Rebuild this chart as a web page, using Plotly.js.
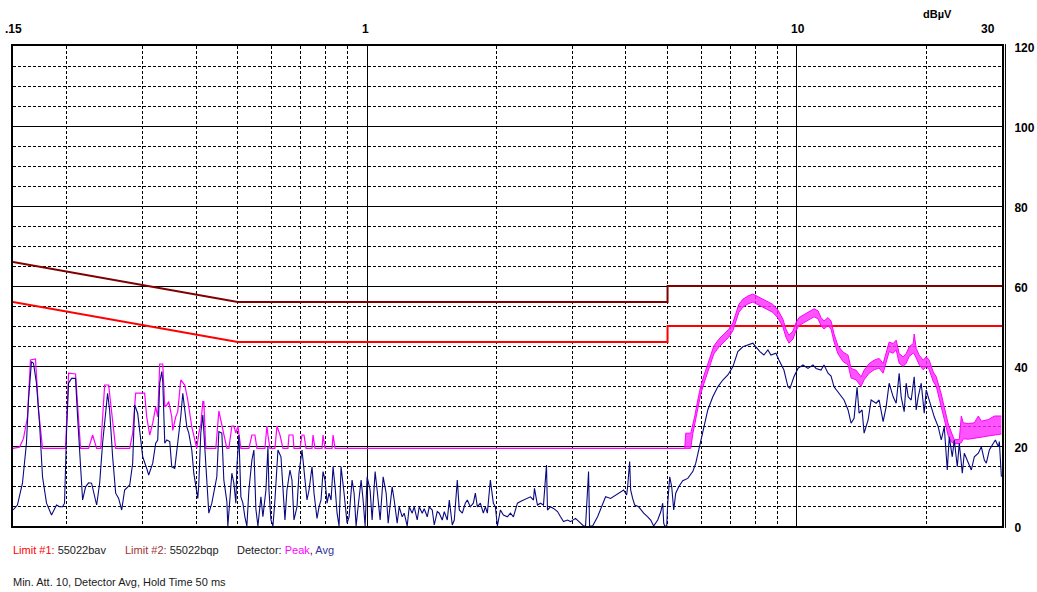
<!DOCTYPE html>
<html>
<head>
<meta charset="utf-8">
<script src="https://cdn.plot.ly/plotly-3.0.1.min.js"></script>
<style>
html,body{margin:0;padding:0;background:#ffffff;}
#chart{width:1037px;height:592px;}
</style>
</head>
<body>
<div id="chart"></div>
<script>
// ---------------- data (frequency in MHz, level in dBµV) ----------------
const limitQpFreq = [0.15, 0.5, 5, 5, 30];
const limitQpDb   = [66, 56, 56, 60, 60];
const limitAvFreq = [0.15, 0.5, 5, 5, 30];
const limitAvDb   = [56, 46, 46, 50, 50];

// Peak detector, low band (thin trace)
const peakLowFreq = [0.15,0.1553,0.1587,0.1621,0.1647,0.1692,0.1720,0.1757,0.1988,0.2020,0.2097,0.2154,0.2249,0.2298,0.2348,0.2399,0.2451,0.2504,0.2600,0.2803,0.2848,0.2894,0.3037,0.3070,0.3120,0.3171,0.3222,0.3257,0.3292,0.3346,0.3382,0.3418,0.3455,0.3511,0.3530,0.3587,0.3626,0.3685,0.3765,0.3826,0.3909,0.3973,0.4015,0.4059,0.4102,0.4147,0.4169,0.4214,0.4446,0.4519,0.4617,0.4717,0.4768,0.4845,0.4897,0.4950,0.5004,0.5085,0.5308,0.5394,0.5482,0.5541,0.5784,0.5846,0.5878,0.5941,0.6103,0.6169,0.6269,0.6371,0.6544,0.6579,0.6722,0.6758,0.6979,0.7055,0.7131,0.7208,0.7444,0.7484,0.7564,0.7854,0.7896,0.7982,0.8287,0.8332,0.8422,5.483];
const peakLowDb = [19.4,19.7,21.9,27.3,41.5,41.75,29,19.4,19.4,38.2,38,19.4,19.4,22.75,19.4,19.4,35.25,35.25,19.4,19.4,23.2,33.2,33.2,27.3,22.75,25.7,29.8,27.3,40.5,40.5,29.8,30.25,31.1,27.3,23.9,27.3,28.6,36.5,35.25,31.5,24.8,21.5,19.4,23.2,25.25,31.1,31.1,19.4,19.4,28.75,23.9,19.4,19.4,25,25,23.2,25,19.4,19.4,22.75,22.75,19.4,19.4,25,22.75,19.4,19.4,25,22.75,19.4,19.4,22.75,22.75,19.4,19.4,22.75,22.75,19.4,19.4,22.75,19.4,19.4,22.75,19.4,19.4,22.75,19.4,19.4];

// Peak detector, high band (noisy band: upper and lower envelope)
const peakHighFreq = [5.483,5.512,5.662,5.723,5.785,5.879,5.974,6.071,6.203,6.304,6.406,6.581,6.759,6.943,7.094,7.209,7.326,7.485,7.689,7.898,8.113,8.334,8.560,8.793,9.032,9.278,9.429,9.582,9.790,9.949,10.11,10.385,10.668,10.958,11.196,11.377,11.562,11.813,12.005,12.200,12.465,12.804,13.152,13.365,13.729,14.102,14.331,14.721,15.122,15.533,15.869,16.127,16.389,16.745,17.017,17.293,17.669,17.955,18.247,18.643,18.744,18.946,19.253,19.671,19.990,20.315,20.756,21.093,21.320,21.666,22.018,22.496,22.861,23.232,23.864,24.122,24.382,25.046,25.865,26.43,26.855,27.883,28.796,29.9];
const peakHighMax = [19.4,23.2,23.2,25,27.5,31.5,35,37.5,40.4,42.9,45,46.7,47.9,49.2,50.8,53.3,55.4,56.7,57.5,58,57.3,56.8,56,55.4,54,51.7,49.2,47.7,48.75,50.8,52.1,52.9,53.5,54.3,53.8,52.1,51.25,52.1,51.25,48,45,43.5,42.7,39.4,38.95,37.3,38.95,40.6,41.45,41.9,40.6,43.1,46,45.6,46.45,43.1,42.3,43.1,44.8,45.6,48,44.4,42.7,41.45,42.3,41.45,38.5,37.3,35.8,33,29.7,25.5,23.5,21.6,21.6,27.5,25.8,25.6,25.8,27.5,26.2,26.6,27.5,27.5];
const peakHighMin = [19.4,19.4,19.4,23,25.5,29.5,33,35.5,38.4,40.9,43,44.7,45.9,47.2,48.8,51.3,53.4,54.7,55.5,56,55.3,54.8,54,53.4,52,49.7,47.2,45.7,46.75,48.8,50.1,50.9,51.5,52.3,51.8,50.1,49.25,50.1,49.25,46,43,41.1,40.3,37,36.55,34.9,36.55,38.2,39.05,39.5,38.2,40.7,43.6,43.2,44.05,40.7,39.9,40.7,42.4,43.2,43,42,40.3,39.05,39.9,39.05,36.1,34.9,33,30,26.7,22.5,21,20.6,20.6,20.8,21.8,21.7,22,22.2,22.2,22.5,22.8,23];

// Average detector
const avgFreq = [0.15,0.1536,0.1578,0.1612,0.1630,0.1656,0.1674,0.1701,0.1729,0.1757,0.1795,0.1844,0.1894,0.1925,0.1956,0.1977,0.1999,0.2020,0.2053,0.2097,0.2120,0.2154,0.2178,0.2213,0.2249,0.2285,0.2322,0.2348,0.2386,0.2424,0.2490,0.2517,0.2558,0.2600,0.2642,0.2685,0.2728,0.2803,0.2848,0.2879,0.2925,0.2973,0.3005,0.3070,0.3103,0.3171,0.3222,0.3257,0.3292,0.3328,0.3346,0.3382,0.3418,0.3474,0.3511,0.3568,0.3626,0.3685,0.3725,0.3765,0.3806,0.3847,0.3909,0.3951,0.3994,0.4037,0.4059,0.4102,0.4147,0.4191,0.4237,0.4282,0.4352,0.4423,0.4470,0.4519,0.4592,0.4641,0.4717,0.4742,0.4793,0.4845,0.4897,0.4950,0.4977,0.5031,0.5085,0.5140,0.5195,0.5251,0.5308,0.5394,0.5452,0.5511,0.5571,0.5661,0.5722,0.5815,0.5878,0.5910,0.5973,0.6038,0.6103,0.6202,0.6303,0.6371,0.6439,0.6509,0.6615,0.6686,0.6758,0.6868,0.6942,0.7055,0.7131,0.7247,0.7325,0.7444,0.7524,0.7646,0.7729,0.7812,0.7896,0.7982,0.8068,0.8155,0.8243,0.8332,0.8422,0.8513,0.8604,0.8697,0.8838,0.8982,0.9079,0.9226,0.9326,0.9427,0.9528,0.9683,0.9787,0.9893,1.0,1.0162,1.0272,1.0438,1.0551,1.0723,1.0897,1.1074,1.1194,1.1436,1.1560,1.1747,1.1874,1.2067,1.2197,1.2395,1.2529,1.2732,1.2869,1.3078,1.3220,1.3434,1.3579,1.3800,1.3949,1.4175,1.4328,1.4561,1.4718,1.4957,1.5118,1.5364,1.5529,1.5781,1.5952,1.6211,1.6386,1.6652,1.6922,1.7105,1.7383,1.7665,1.7856,1.8049,1.8341,1.8639,1.8840,1.9043,1.9353,1.9667,1.9879,2.0094,2.0420,2.0751,2.1202,2.1546,2.1896,2.2371,2.2734,2.3103,2.3604,2.3988,2.4377,2.4508,2.4907,2.5311,2.5722,2.6139,2.6280,2.6707,2.7140,2.7730,2.8179,2.8636,2.9258,2.9733,3.0542,3.1373,3.1882,3.2226,3.2750,3.2926,3.3460,3.4371,3.5305,3.5878,3.6854,3.7856,3.8887,3.9518,4.0160,4.0376,4.0812,4.1031,4.1474,4.1921,4.2831,4.3997,4.4952,4.5681,4.6422,4.7430,4.8200,4.8720,4.8982,4.9246,4.9778,5.0046,5.0586,5.1132,5.1683,5.2241,5.3090,5.4242,5.5718,5.7233,5.8162,5.9107,6.0389,6.2032,6.3719,6.5453,6.7233,6.9062,7.0940,7.2870,7.4852,7.6888,7.8980,8.0262,8.2005,8.3784,8.5603,8.6992,8.9358,9.0809,9.3279,9.5304,9.6333,9.8423,10.056,10.329,10.610,10.899,11.076,11.377,11.562,11.813,12.005,12.200,12.532,12.873,13.152,13.365,13.582,13.802,13.951,14.178,14.331,14.642,14.880,15.285,15.533,15.869,16.127,16.389,16.745,17.017,17.293,17.480,17.764,17.955,18.149,18.444,18.743,18.946,19.150,19.461,19.777,19.990,20.206,20.534,20.867,21.320,21.666,22.018,22.375,22.616,22.984,23.232,23.609,23.864,24.252,24.514,25.046,25.452,25.865,26.427,26.855,27.291,27.586,28.033,28.642,28.951,29.421,29.579,29.9];
const avgDb = [4,5.25,10.7,20.7,31.5,41.1,40.7,35.7,25.7,12.3,5.7,2.75,5.25,4.8,4.8,5.7,24,35.7,36.9,36.9,27.3,16.5,6.5,9.8,10.8,10.7,7.3,5.25,10.7,20.7,33.2,29,17.3,8.2,6.9,4,9,10.25,15.7,30.25,28.2,21.5,17.3,14.4,12.75,15.7,20.7,21.5,35.7,38.6,36.1,20.7,21.5,21.1,14.8,14.4,20.7,27.3,33.2,29.4,24.8,23.2,19,13.2,10.25,6.9,10.7,23.2,27.75,19.8,9,3.2,5.7,9.8,12.3,23.6,23.2,11.5,6.1,0,5.7,13.2,10.7,5.7,14.8,22.75,7.3,5.7,2.3,0,9,16.5,19,4.2,0,7.3,2.3,9,19.8,9,1.5,0,6.5,19,17.3,9,1.5,9,14,11.5,1.5,4.8,13.2,19,13.2,6.5,9,14.8,8.2,1.9,4.8,6.5,13.6,11.5,5.7,8.2,6.5,14.8,9.8,3.2,0,14.8,8.2,0.7,2.3,11.5,8.2,0,4.8,11.5,6.5,0,12.3,9,1.5,13.6,9,1.5,12.3,8.2,0.7,9.8,6.5,0.7,4.8,2.3,3.2,0,4.8,3.2,4.8,1.5,4.8,3.2,4.3,2.3,4.8,4,0.25,3.6,3.2,1.5,3.6,1.5,6.5,0.25,1.5,11.5,4,3.2,5.7,6.5,4.8,5.7,8.2,4.8,5.7,3.2,4.8,3.2,11.5,5.7,4.8,0,4,2.75,2.3,3.2,2.3,5.7,6.1,6.5,6.9,7.3,6.5,9.4,5.25,5.7,5.25,15.25,4,4.8,4.4,3.6,2.3,1.1,1.5,1.1,1.9,0.7,0,0,13.6,0,0,2.3,5.7,7.3,6.9,7.75,8.6,9,7.75,9.8,16.1,9,6.9,5.25,4.8,3.2,2.3,1.5,0,1.5,3.5,5.7,0.7,0,0,5.7,12.3,9.8,4,8.2,9.8,11.3,11.9,13.6,15.7,19,23,29,32.3,34.8,36.5,37.75,39.8,43.6,44.8,45.25,45.7,44.8,43.6,42.75,44,42.75,43.2,41.5,39,34.8,34.4,37.3,39.4,40.25,39.4,40.25,39.4,39,40.25,38.2,37.5,34.8,33.2,31.5,29,25.7,26.9,34.7,28.2,29,23.2,26.5,31.5,30.7,31.5,26.1,29.8,35.7,32.3,30.7,38.2,32.3,28.6,35.7,32.3,31.5,37.3,29,32.3,35.7,28.2,34,32.3,29.8,27.3,24.8,21.5,24.8,14,22.3,17.3,21.5,14.8,20.7,13.2,18.2,15.7,14,17.3,18.2,19.8,16.5,15.7,19,20.7,21.5,19.8,21.1,12.3];

// axis ticks / grid positions and labels
const xTickVals = [0.15, 1, 10, 30];
const xTickText = ['.15', '1', '10', '30'];
const xMajorGrid = [1, 10];
const xMinorGrid = [0.2,0.3,0.4,0.5,0.6,0.7,0.8,0.9,2,3,4,5,6,7,8,9,20];
const yTickVals = [0, 20, 40, 60, 80, 100, 120];
const yTickText = ['0', '20', '40', '60', '80', '100', '120'];
const unitLabel = 'dBµV';
const noteLine2 = 'Min. Att. 10, Detector Avg, Hold Time 50 ms';

// ---------------- styling ----------------
const FONT = 'Liberation Sans, Arial, Helvetica, sans-serif';
const C_PEAK = '#ff00ff';
const C_AVG = '#0a0a80';
const C_LIM1 = '#ff0000';
const C_LIM2 = '#800000';

const traces = [
  {x: limitQpFreq, y: limitQpDb, type: 'scatter', mode: 'lines', line: {color: C_LIM2, width: 2}, hoverinfo: 'skip'},
  {x: limitAvFreq, y: limitAvDb, type: 'scatter', mode: 'lines', line: {color: C_LIM1, width: 2}, hoverinfo: 'skip'},
  {x: peakLowFreq, y: peakLowDb, type: 'scatter', mode: 'lines', line: {color: C_PEAK, width: 1.2}, hoverinfo: 'skip'},
  {x: peakHighFreq, y: peakHighMin, type: 'scatter', mode: 'lines', line: {color: C_PEAK, width: 1}, hoverinfo: 'skip'},
  {x: peakHighFreq, y: peakHighMax, type: 'scatter', mode: 'lines', fill: 'tonexty', fillcolor: 'rgba(255,40,255,0.8)', line: {color: C_PEAK, width: 1}, hoverinfo: 'skip'},
  {x: avgFreq, y: avgDb, type: 'scatter', mode: 'lines', line: {color: C_AVG, width: 1.1}, hoverinfo: 'skip'}
];

const xLabelShift = [0, -2, 1, -14];
const annotations = xTickVals.map((v, i) => ({
  xref: 'x', x: Math.log10(v), yref: 'paper', y: 1, yanchor: 'middle', xanchor: 'center',
  yshift: 17, xshift: xLabelShift[i], text: xTickText[i], showarrow: false,
  font: {family: FONT, size: 12, weight: 'bold', color: '#000'}
}));
annotations.push({
  xref: 'paper', x: 0.9345, yref: 'paper', y: 1, yanchor: 'middle', xanchor: 'center', yshift: 32,
  text: unitLabel, showarrow: false, font: {family: FONT, size: 11, weight: 'bold', color: '#000'}
});
const noteFont = {family: FONT, size: 11, color: '#1a1a1a'};
annotations.push({
  xref: 'paper', x: 0, yref: 'paper', y: 0, xanchor: 'left', yanchor: 'middle', yshift: -24, xshift: -2,
  text: '<span style="color:#ff0000">Limit #1:</span> 55022bav', showarrow: false, font: noteFont
});
annotations.push({
  xref: 'paper', x: 0.1132, yref: 'paper', y: 0, xanchor: 'left', yanchor: 'middle', yshift: -24, xshift: -2,
  text: '<span style="color:#a03434">Limit #2:</span> 55022bqp', showarrow: false, font: noteFont
});
annotations.push({
  xref: 'paper', x: 0.2265, yref: 'paper', y: 0, xanchor: 'left', yanchor: 'middle', yshift: -24, xshift: -2,
  text: 'Detector: <span style="color:#ff00ff">Peak</span>, <span style="color:#33339a">Avg</span>', showarrow: false, font: noteFont
});
annotations.push({
  xref: 'paper', x: 0, yref: 'paper', y: 0, xanchor: 'left', yanchor: 'middle', yshift: -56, xshift: -2,
  text: noteLine2, showarrow: false, font: noteFont
});

const layout = {
  width: 1037, height: 592,
  margin: {l: 13, r: 35, t: 46, b: 66, pad: 0},
  paper_bgcolor: '#ffffff', plot_bgcolor: '#ffffff',
  showlegend: false, hovermode: false,
  font: {family: FONT, size: 11, color: '#000'},
  xaxis: {
    type: 'log', range: [Math.log10(0.15), Math.log10(30)],
    tickmode: 'array', tickvals: xMajorGrid, showticklabels: false, ticks: '',
    showgrid: true, gridcolor: '#000', gridwidth: 1,
    minor: {tickmode: 'array', tickvals: xMinorGrid, showgrid: true, gridcolor: '#000', griddash: '3px,2px', gridwidth: 1, ticks: ''},
    showline: true, linecolor: '#000', linewidth: 2, mirror: true, zeroline: false, fixedrange: true
  },
  yaxis: {
    range: [0, 120], side: 'right',
    tickmode: 'array', tickvals: yTickVals, ticktext: yTickText,
    ticks: '', ticklabelstandoff: 8, ticklabelshift: 2,
    tickfont: {family: FONT, size: 12, weight: 'bold', color: '#000'},
    showgrid: true, gridcolor: '#000', gridwidth: 1,
    minor: {tick0: 0, dtick: 5, showgrid: true, gridcolor: '#000', griddash: '3px,2px', gridwidth: 1, ticks: ''},
    showline: true, linecolor: '#000', linewidth: 2, mirror: true, zeroline: false, fixedrange: true
  },
  shapes: [
    {type: 'line', xref: 'paper', yref: 'paper', x0: 1.0035, x1: 1.0035, y0: -0.004, y1: 1.004, line: {color: '#000', width: 1}}
  ],
  annotations: annotations
};

Plotly.newPlot('chart', traces, layout, {staticPlot: true, displayModeBar: false});
</script>
</body>
</html>
